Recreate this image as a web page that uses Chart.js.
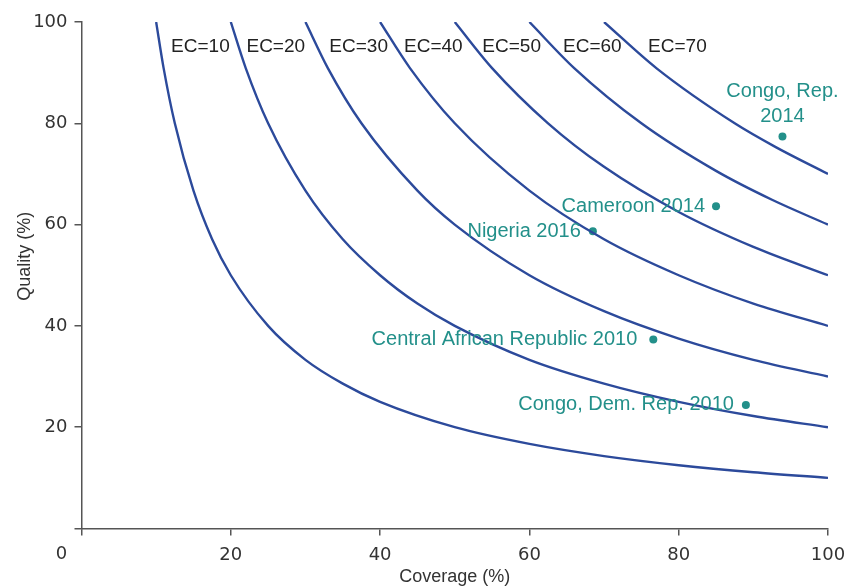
<!DOCTYPE html>
<html>
<head>
<meta charset="utf-8">
<script src="https://cdn.jsdelivr.net/npm/chart.js@4.4.1/dist/chart.umd.min.js"></script>
<style>
  html, body { margin: 0; padding: 0; background: #fff; }
</style>
</head>
<body>
<canvas id="chart" width="845" height="588"></canvas>
<script>
// --- data ---
var ecNames = ['EC=10', 'EC=20', 'EC=30', 'EC=40', 'EC=50', 'EC=60', 'EC=70'];

var ec10X = [10, 11, 12.5, 15, 17.5, 20, 25, 30, 35, 40, 50, 60, 70, 80, 90, 100];
var ec10Y = [100, 90.9, 80, 66.7, 57.1, 50, 40, 33.3, 28.6, 25, 20, 16.7, 14.3, 12.5, 11.1, 10];
var ec20X = [20, 22, 25, 30, 35, 40, 45, 50, 60, 70, 80, 90, 100];
var ec20Y = [100, 90.9, 80, 66.7, 57.1, 50, 44.4, 40, 33.3, 28.6, 25, 22.2, 20];
var ec30X = [30, 33, 37.5, 45, 50, 60, 70, 80, 90, 100];
var ec30Y = [100, 90.9, 80, 66.7, 60, 50, 42.9, 37.5, 33.3, 30];
var ec40X = [40, 44, 50, 60, 70, 80, 90, 100];
var ec40Y = [100, 90.9, 80, 66.7, 57.1, 50, 44.4, 40];
var ec50X = [50, 55, 62.5, 70, 80, 90, 100];
var ec50Y = [100, 90.9, 80, 71.4, 62.5, 55.6, 50];
var ec60X = [60, 66, 75, 85, 92.5, 100];
var ec60Y = [100, 90.9, 80, 70.6, 64.9, 60];
var ec70X = [70, 77, 87.5, 93, 100];
var ec70Y = [100, 90.9, 80, 75.3, 70];

var countryNames = [['Congo, Rep.', '2014'], ['Cameroon 2014'], ['Nigeria 2016'], ['Central African Republic 2010'], ['Congo, Dem. Rep. 2010']];
var countryCoverage = [93.9, 85.0, 68.5, 76.6, 89.0];
var countryQuality = [77.4, 63.6, 58.7, 37.3, 24.4];

var xTicks = [0, 20, 40, 60, 80, 100];
var yTicks = [0, 20, 40, 60, 80, 100];

// where the EC names sit (left edge, in axis units)
var ecLabelCoverage = [12, 22.1, 33.2, 43.2, 53.7, 64.5, 75.9];
var ecLabelQuality = 95.1;

var curveColor = '#2c4a9b';
var teal = '#23908a';
var axisColor = '#555';

function pts(xs, ys) {
    return xs.map(function(x, i) { return { x: x, y: ys[i] }; });
}

var curves = [[ec10X, ec10Y], [ec20X, ec20Y], [ec30X, ec30Y], [ec40X, ec40Y], [ec50X, ec50Y], [ec60X, ec60Y], [ec70X, ec70Y]];
var datasets = curves.map(function(c, i) {
    return {
        label: ecNames[i], data: pts(c[0], c[1]), showLine: true,
        borderColor: curveColor, borderWidth: 2.4, pointRadius: 0,
        cubicInterpolationMode: 'monotone', fill: false
    };
});
datasets.push({
    label: 'countries', data: pts(countryCoverage, countryQuality), showLine: false,
    pointRadius: 4, pointBackgroundColor: teal, pointBorderWidth: 0
});

// label offsets in pixels from each country dot
var labelOffsets = [[0, -45], [-11, 0], [-12, 0], [-16, 0], [-12, 0]];

var annotations = {
    id: 'annotations',
    afterDatasetsDraw: function(chart) {
        var ctx = chart.ctx, xs = chart.scales.x, ys = chart.scales.y, area = chart.chartArea;
        ctx.save();

        // EC names
        ctx.font = '19px "Liberation Sans", Arial, sans-serif';
        ctx.fillStyle = '#222';
        ctx.textAlign = 'left';
        ctx.textBaseline = 'middle';
        ecNames.forEach(function(n, i) {
            ctx.fillText(n, xs.getPixelForValue(ecLabelCoverage[i]), ys.getPixelForValue(ecLabelQuality));
        });

        // country labels
        ctx.font = '20px "Liberation Sans", Arial, sans-serif';
        ctx.fillStyle = teal;
        countryNames.forEach(function(lines, i) {
            var px = xs.getPixelForValue(countryCoverage[i]) + labelOffsets[i][0];
            var py = ys.getPixelForValue(countryQuality[i]) + labelOffsets[i][1];
            if (lines.length > 1) {
                ctx.textAlign = 'center';
                lines.forEach(function(t, j) { ctx.fillText(t, px, py + j * 25); });
            } else {
                ctx.textAlign = 'right';
                ctx.fillText(lines[0], px, py);
            }
        });

        // shared origin label
        ctx.font = '18px "DejaVu Sans", sans-serif';
        ctx.fillStyle = '#333';
        ctx.textAlign = 'center';
        ctx.fillText('0', area.left - 20, area.bottom + 26);

        // axis titles
        ctx.font = '18px "Liberation Sans", Arial, sans-serif';
        ctx.fillText('Coverage (%)', (area.left + area.right) / 2, 577);
        ctx.translate(25, area.top + (area.bottom - area.top) / 2 - 19);
        ctx.rotate(-Math.PI / 2);
        ctx.fillText('Quality (%)', 0, 0);
        ctx.restore();
    }
};

function axis(ticks, pad, fit) {
    return {
        type: 'linear', min: 0, max: 100,
        afterBuildTicks: function(s) { s.ticks = ticks.map(function(v) { return { value: v }; }); },
        afterFit: function(s) {
            fit(s);
            s.paddingLeft = 0; s.paddingRight = 0; s.paddingTop = 0; s.paddingBottom = 0;
        },
        border: { display: true, color: axisColor, width: 1.5 },
        grid: { drawOnChartArea: false, drawTicks: true, tickLength: 7, color: axisColor, lineWidth: 1.5 },
        ticks: {
            padding: pad, color: '#333',
            font: { family: '"DejaVu Sans", sans-serif', size: 18 },
            callback: function(v) { return v === 0 ? '' : v; }
        }
    };
}

new Chart(document.getElementById('chart'), {
    type: 'scatter',
    data: { datasets: datasets },
    options: {
        responsive: false, animation: false, devicePixelRatio: 1,
        layout: { autoPadding: false, padding: { left: 0, right: 17, top: 22, bottom: 0 } },
        plugins: { legend: { display: false }, tooltip: { enabled: false } },
        scales: {
            x: axis(xTicks, 9, function(s) { s.height = 59.5; }),
            y: axis(yTicks, 7, function(s) { s.width = 81.5; })
        }
    },
    plugins: [annotations]
});
</script>
</body>
</html>
